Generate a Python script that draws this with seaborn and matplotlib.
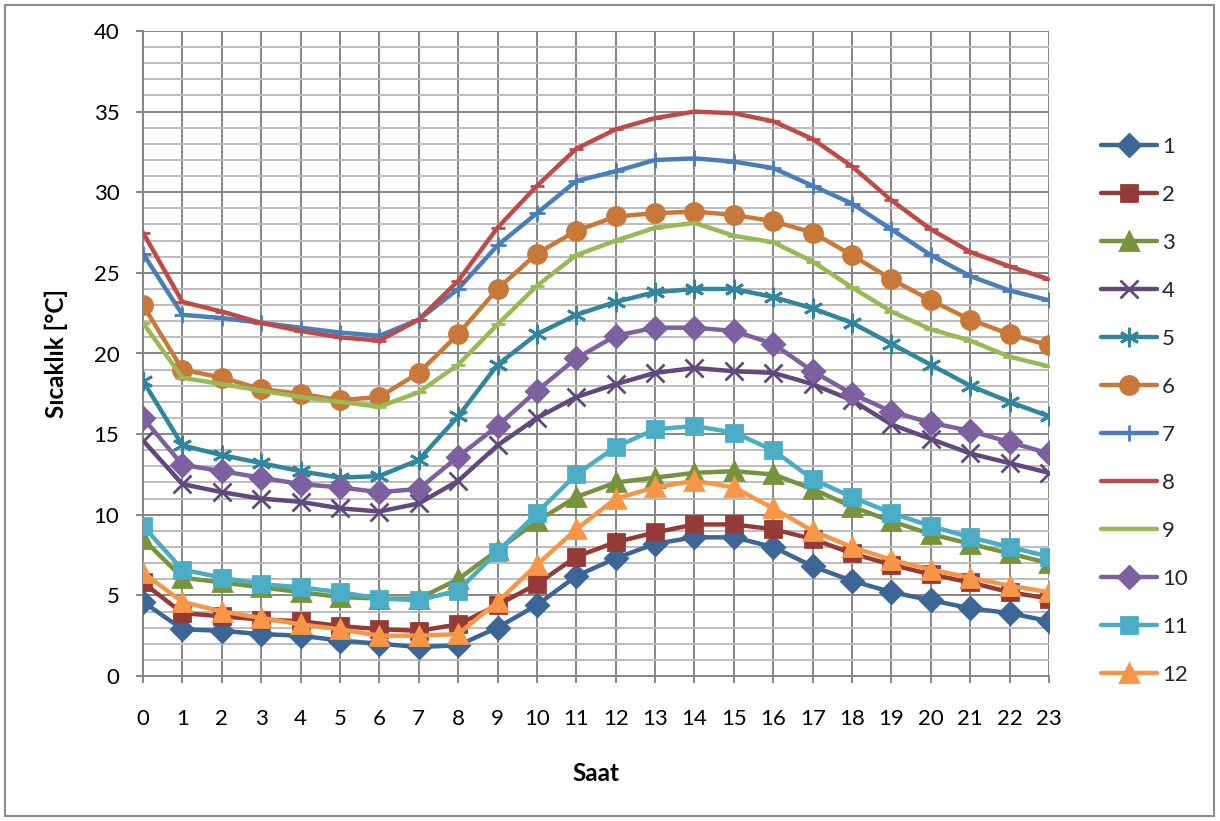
import matplotlib
matplotlib.use("Agg")
import matplotlib.pyplot as plt
from matplotlib.lines import Line2D
from matplotlib.patches import Rectangle
from matplotlib.ticker import MultipleLocator
import seaborn as sns
import pandas as pd

hours = list(range(24))
series_names = ["1", "2", "3", "4", "5", "6", "7", "8", "9", "10", "11", "12"]

s1 = [4.6, 2.9, 2.8, 2.6, 2.5, 2.2, 2.0, 1.8, 1.9, 3.0, 4.4, 6.2, 7.3, 8.2, 8.6, 8.6, 8.0, 6.8, 5.9, 5.2, 4.7, 4.2, 3.9, 3.4]
s2 = [5.8, 3.9, 3.7, 3.5, 3.4, 3.1, 2.9, 2.8, 3.2, 4.4, 5.7, 7.4, 8.3, 8.9, 9.4, 9.4, 9.1, 8.5, 7.6, 6.9, 6.3, 5.8, 5.2, 4.8]
s3 = [8.5, 6.1, 5.8, 5.5, 5.2, 4.9, 4.8, 4.8, 6.0, 7.8, 9.6, 11.1, 12.0, 12.3, 12.6, 12.7, 12.5, 11.6, 10.5, 9.6, 8.8, 8.2, 7.6, 7.0]
s4 = [14.6, 11.9, 11.4, 11.0, 10.8, 10.4, 10.2, 10.7, 12.1, 14.3, 16.0, 17.3, 18.1, 18.8, 19.1, 18.9, 18.8, 18.1, 17.1, 15.6, 14.7, 13.8, 13.2, 12.6]
s5 = [18.3, 14.3, 13.7, 13.2, 12.7, 12.3, 12.4, 13.4, 16.1, 19.3, 21.2, 22.4, 23.2, 23.8, 24.0, 24.0, 23.5, 22.8, 21.9, 20.6, 19.3, 18.0, 17.0, 16.1]
s6 = [23.0, 19.0, 18.5, 17.8, 17.5, 17.1, 17.3, 18.8, 21.2, 24.0, 26.2, 27.6, 28.5, 28.7, 28.8, 28.6, 28.2, 27.5, 26.1, 24.6, 23.3, 22.1, 21.2, 20.5]
s7 = [26.2, 22.4, 22.2, 21.9, 21.6, 21.3, 21.1, 22.1, 24.0, 26.7, 28.7, 30.7, 31.3, 32.0, 32.1, 31.9, 31.5, 30.4, 29.3, 27.7, 26.1, 24.8, 23.9, 23.3]
s8 = [27.5, 23.2, 22.6, 21.9, 21.4, 21.0, 20.8, 22.1, 24.5, 27.8, 30.4, 32.7, 33.9, 34.6, 35.0, 34.9, 34.4, 33.3, 31.6, 29.5, 27.7, 26.3, 25.4, 24.6]
s9 = [21.9, 18.5, 18.1, 17.7, 17.3, 17.0, 16.7, 17.6, 19.3, 21.8, 24.2, 26.1, 27.0, 27.8, 28.1, 27.3, 26.9, 25.7, 24.1, 22.6, 21.5, 20.8, 19.8, 19.2]
s10 = [16.0, 13.1, 12.7, 12.3, 11.9, 11.7, 11.4, 11.6, 13.6, 15.5, 17.7, 19.7, 21.1, 21.6, 21.6, 21.4, 20.6, 18.9, 17.5, 16.4, 15.7, 15.2, 14.5, 13.8]
s11 = [9.3, 6.6, 6.1, 5.7, 5.5, 5.2, 4.8, 4.7, 5.3, 7.7, 10.1, 12.5, 14.2, 15.3, 15.5, 15.1, 14.0, 12.2, 11.1, 10.1, 9.3, 8.6, 8.0, 7.4]
s12 = [6.4, 4.6, 4.0, 3.6, 3.2, 2.9, 2.5, 2.5, 2.6, 4.6, 6.9, 9.1, 11.0, 11.7, 12.1, 11.7, 10.4, 9.0, 8.0, 7.2, 6.6, 6.1, 5.6, 5.2]

all_series = [s1, s2, s3, s4, s5, s6, s7, s8, s9, s10, s11, s12]

colors = ["#3B6696", "#963A38", "#77933C", "#5E4A7C", "#31859C", "#C8793A",
          "#4A7EBB", "#BE4B48", "#98B954", "#7D60A0", "#4BACC6", "#F79646"]
markers = ["D", "s", "^", "x", (6, 2, 0), "o", "+", "_", "_", "D", "s", "^"]
msizes = [11, 12, 12.5, 13, 14, 13, 12, 10, 10, 11, 12, 12.5]

sns.set_theme(style="white")
plt.rcParams["font.family"] = ["Lato", "DejaVu Sans"]

fig = plt.figure(figsize=(12.2, 8.21), dpi=100)
ax = fig.add_axes([143 / 1220, 1 - 676 / 821, 906 / 1220, 645 / 821])

grid_major = "#868686"
grid_minor = "#BDBDBD"
lw = 3.2

for i, (name, vals) in enumerate(zip(series_names, all_series)):
    df = pd.DataFrame({"Saat": hours, "T": vals})
    sns.lineplot(data=df, x="Saat", y="T", ax=ax, color=colors[i], lw=lw,
                 marker=markers[i], markersize=msizes[i],
                 markeredgecolor=colors[i], markerfacecolor=colors[i],
                 markeredgewidth=2.0, legend=False, zorder=3 + i)

ax.set_xlim(0, 23)
ax.set_ylim(0, 40)
ax.set_xticks(hours)
ax.yaxis.set_major_locator(MultipleLocator(5))
ax.yaxis.set_minor_locator(MultipleLocator(1))
ax.grid(which="major", axis="both", color=grid_major, lw=1.4, zorder=0)
ax.grid(which="minor", axis="y", color=grid_minor, lw=1.4, zorder=0)
ax.set_axisbelow(True)

for side in ["top", "right"]:
    ax.spines[side].set_visible(False)
for side in ["left", "bottom"]:
    ax.spines[side].set_color(grid_major)
    ax.spines[side].set_linewidth(1.4)

ax.tick_params(axis="both", which="major", direction="out", length=5, width=1.4,
               color=grid_major, labelsize=16, labelcolor="#000000",
               bottom=True, left=True)
ax.tick_params(axis="x", pad=19)
ax.tick_params(axis="y", pad=12)
ax.tick_params(axis="y", which="minor", length=0)

ax.set_xlabel("Saat", fontsize=17.5, fontweight="bold", color="#000000")
ax.set_ylabel("Sıcaklık [°C]", fontsize=17.5, fontweight="bold", color="#000000")
ax.xaxis.set_label_coords(0.5, -0.133)
ax.yaxis.set_label_coords(-0.083, 0.5)

handles = [Line2D([0], [0], color=colors[i], lw=lw, marker=markers[i],
                  markersize=msizes[i], markeredgecolor=colors[i],
                  markerfacecolor=colors[i], markeredgewidth=2.0,
                  solid_capstyle="round")
           for i in range(12)]
fig.legend(handles, series_names, loc="upper left",
           bbox_to_anchor=(1101 / 1220, 1 - 137 / 821), frameon=False,
           fontsize=16, labelspacing=1.26, handlelength=2.5, handletextpad=0.25,
           borderpad=0, borderaxespad=0)

fig.patches.append(Rectangle((5 / 1220, 5 / 821), 1209 / 1220, 811 / 821,
                             transform=fig.transFigure, fill=False,
                             edgecolor="#8C8C8C", lw=1.5))

fig.savefig("out.png", dpi=100, facecolor="white")
